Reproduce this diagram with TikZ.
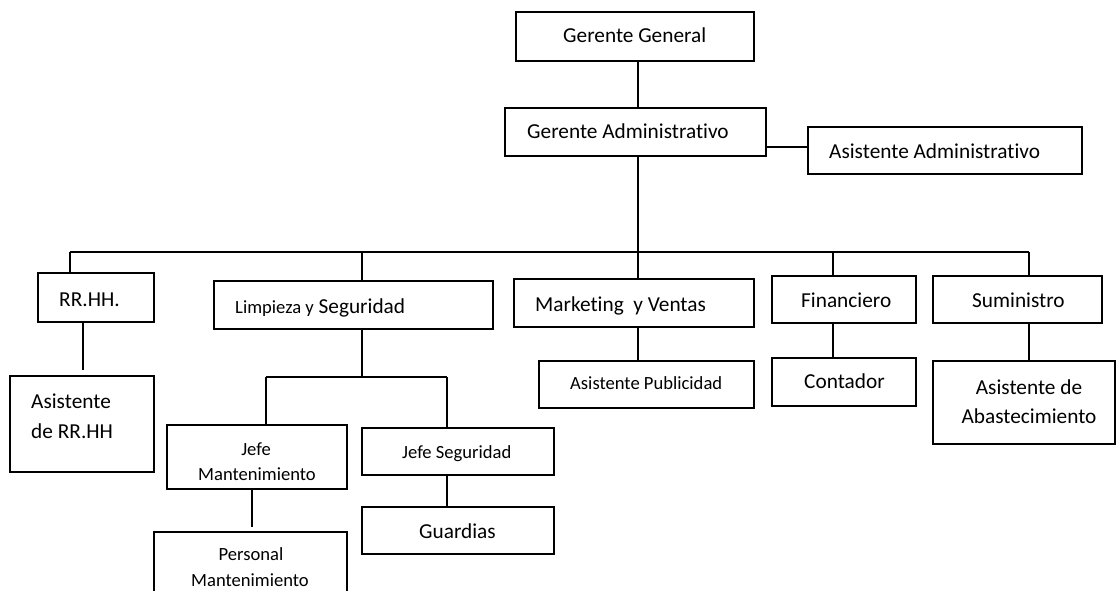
\documentclass[tikz,border=0pt]{standalone}
\usepackage{fontspec}
\setmainfont{Carlito}[Ligatures=NoCommon]
\newcommand{\bigtxt}{\fontsize{21.3}{25}\selectfont}
\newcommand{\smtxt}{\fontsize{18.6}{22}\selectfont}
\newcommand{\mkbox}[5]{\node[box, minimum width={(#4-#2)*1pt}, minimum height={(#5-#3)*1pt}] (#1) at ({(#2+#4)/2},{(#3+#5)/2}) {};}
\begin{document}
\begin{tikzpicture}[x=1pt,y=-1pt,
  box/.style={draw=black, line width=1.5pt, inner sep=0pt, outer sep=0pt, fill=white},
  conn/.style={draw=black, line width=1.5pt},
  lbl/.style={inner sep=0pt, anchor=base west, font=\bigtxt},
  slbl/.style={inner sep=0pt, anchor=base west, font=\smtxt},
  clbl/.style={inner sep=0pt, anchor=base, font=\bigtxt},
  sclbl/.style={inner sep=0pt, anchor=base, font=\smtxt}]
\useasboundingbox (0,0) rectangle (1117,591);
\clip (0,0) rectangle (1117,591);

% boxes
\mkbox{gg}{516}{12}{754}{61}
\mkbox{ga}{505}{108}{766}{156}
\mkbox{aa}{808}{127}{1082}{174}
\mkbox{rr}{38}{273}{154}{322}
\mkbox{limp}{214}{281}{493}{329}
\mkbox{mk}{514}{279}{754}{327}
\mkbox{fin}{772}{276}{916}{323}
\mkbox{sum}{933}{276}{1102}{323}
\mkbox{arr}{10}{376}{154}{472}
\mkbox{jm}{167}{425}{347}{489}
\mkbox{js}{362}{428}{554}{475}
\mkbox{guard}{362}{507}{554}{554}
\mkbox{pm}{154}{532}{347}{620}
\mkbox{ap}{539}{361}{754}{408}
\mkbox{cont}{772}{358}{916}{406}
\mkbox{aab}{933}{361}{1115}{444}

% labels
\node[lbl] (tgg) at (563,43) {Gerente General};
\node[lbl] (tga) at (527,139) {Gerente Administrativo};
\node[lbl] (taa) at (829,159) {Asistente Administrativo};
\node[lbl] (trr) at (59,306) {RR.HH.};
\node[lbl] (tlimp) at (235,313) {{\smtxt Limpieza y} Seguridad};
\node[lbl] (tmk) at (535,311) {Marketing\ \ y Ventas};
\node[lbl] (tfin) at (801,307) {Financiero};
\node[lbl] (tsum) at (972,307) {Suministro};
\node[lbl] (tarr1) at (31,408) {Asistente};
\node[lbl] (tarr2) at (31,438) {de RR.HH};
\node[sclbl] (tjm1) at (256,455) {Jefe};
\node[sclbl] (tjm2) at (257,480) {Mantenimiento};
\node[sclbl] (tpm1) at (251,560) {Personal};
\node[sclbl] (tpm2) at (250,586) {Mantenimiento};
\node[slbl] (tjs) at (402,458) {Jefe Seguridad};
\node[lbl] (tguard) at (419,538) {Guardias};
\node[slbl] (tap) at (570,389) {Asistente Publicidad};
\node[lbl] (tcont) at (804,388) {Contador};
\node[clbl] (taab1) at (1029,394) {Asistente de};
\node[clbl] (taab2) at (1029,423) {Abastecimiento};

% connector coordinates
\coordinate (c638) at (638,0);
\coordinate (c147) at (0,147);
\coordinate (busL) at (70,252);
\coordinate (busR) at (1029,252);
\coordinate (b362) at (362,252);
\coordinate (b638) at (638,252);
\coordinate (b833) at (833,252);
\coordinate (c83) at (83,0);
\coordinate (c252) at (252,0);
\coordinate (sbL) at (266,377);
\coordinate (sbR) at (447,377);
\coordinate (sbM) at (362,377);

% connectors
\draw[conn] (gg.south -| c638) -- (ga.north -| c638);
\draw[conn] (ga.east |- c147) -- (aa.west |- c147);
\draw[conn] (ga.south -| c638) -- (b638);
\draw[conn] (busL) -- (busR);
\draw[conn] (busL) -- (rr.north -| busL);
\draw[conn] (b362) -- (limp.north -| b362);
\draw[conn] (b638) -- (mk.north -| b638);
\draw[conn] (b833) -- (fin.north -| b833);
\draw[conn] (busR) -- (sum.north -| busR);
\draw[conn, shorten >=6pt] (rr.south -| c83) -- (arr.north -| c83);
\draw[conn] (limp.south -| sbM) -- (sbM);
\draw[conn] (sbL) -- (sbR);
\draw[conn] (sbL) -- (jm.north -| sbL);
\draw[conn] (sbR) -- (js.north -| sbR);
\draw[conn, shorten >=5pt] (jm.south -| c252) -- (pm.north -| c252);
\draw[conn] (js.south -| sbR) -- (guard.north -| sbR);
\draw[conn] (mk.south -| c638) -- (ap.north -| c638);
\draw[conn] (fin.south -| b833) -- (cont.north -| b833);
\draw[conn] (sum.south -| busR) -- (aab.north -| busR);
\end{tikzpicture}
\end{document}
